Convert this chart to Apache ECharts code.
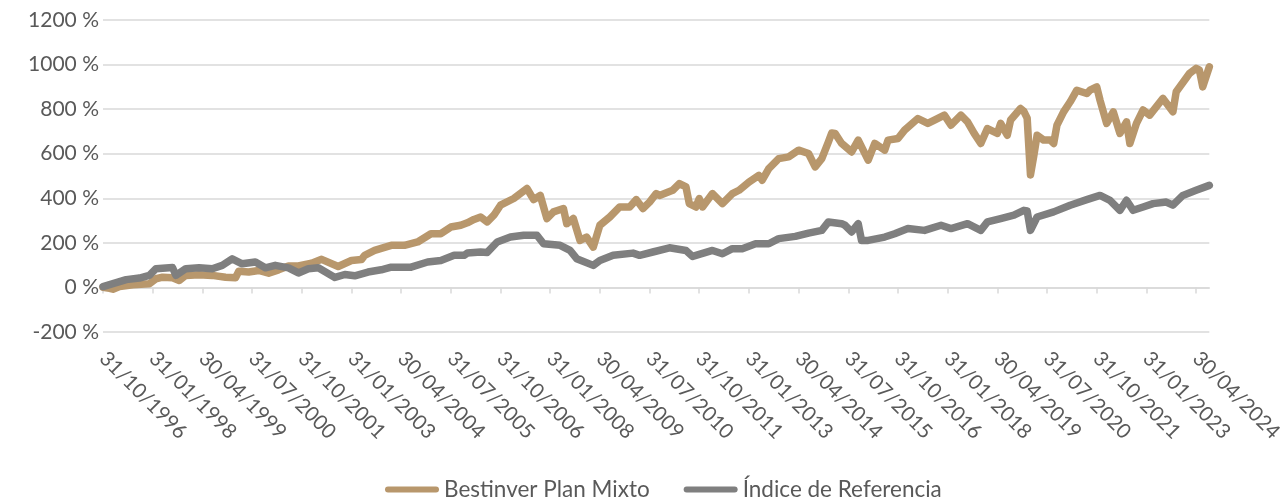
<!DOCTYPE html>
<html>
<head>
<meta charset="utf-8">
<script src="https://cdn.jsdelivr.net/npm/echarts@6/dist/echarts.min.js"></script>
<style>
html,body{margin:0;padding:0;background:#fff;}
#chart{width:1286px;height:500px;}
</style>
</head>
<body>
<div id="chart"></div>
<script>
// Month-end categories from 31/10/1996 to 31/08/2024
function buildCategories(startYear, startMonth, count) {
  var out = [];
  for (var i = 0; i < count; i++) {
    var y = startYear + Math.floor((startMonth - 1 + i) / 12);
    var mo = (startMonth - 1 + i) % 12;
    var last = new Date(Date.UTC(y, mo + 1, 0)).getUTCDate();
    out.push((last < 10 ? '0' : '') + last + '/' + (mo < 9 ? '0' : '') + (mo + 1) + '/' + y);
  }
  return out;
}
var categories = buildCategories(1996, 10, 335);

var seriesNames = ['Bestinver Plan Mixto', 'Índice de Referencia'];
var yTicks = [-200, 0, 200, 400, 600, 800, 1000, 1200];

// [month index since Oct-1996, cumulative return %]
var planMixto = [[0,1],[2,-4],[3,-8],[5,4],[9,12],[14,17],[16,39],[18,46],[21,43],[23,31],[25,54],[29,57],[33,54],[37,46],[40,43],[41,73],[44,69],[47,76],[50,64],[53,79],[56,96],[59,96],[63,109],[66,126],[71,94],[75,121],[78,125],[79,144],[82,166],[87,189],[91,189],[95,204],[99,241],[102,241],[105,271],[108,279],[110,290],[112,305],[114,316],[116,294],[118,324],[120,369],[124,399],[128,444],[130,394],[132,413],[134,309],[136,339],[139,354],[140,286],[142,309],[144,211],[146,226],[148,181],[150,279],[153,316],[156,361],[159,361],[161,394],[163,354],[165,383],[167,421],[168,413],[172,436],[174,466],[176,451],[177,376],[179,361],[180,399],[181,361],[184,421],[187,376],[190,421],[192,436],[195,473],[198,503],[199,481],[201,533],[204,578],[207,586],[210,616],[213,601],[215,541],[217,578],[219,653],[220,693],[221,691],[223,646],[226,608],[228,661],[231,571],[233,646],[236,616],[237,661],[240,668],[242,706],[246,758],[249,736],[251,751],[254,773],[256,728],[259,773],[261,743],[263,691],[265,646],[267,713],[270,691],[271,736],[273,683],[274,751],[277,803],[278,790],[279,760],[280,505],[281,590],[282,683],[284,661],[286,661],[287,646],[288,728],[290,788],[292,833],[294,885],[297,870],[298,885],[300,900],[301,840],[303,736],[305,788],[307,691],[309,743],[310,646],[312,736],[314,796],[316,773],[320,848],[323,788],[324,878],[328,960],[330,983],[331,975],[332,900],[334,990]];

var indiceRef = [[0,4],[3,17],[7,35],[11,42],[14,54],[16,84],[20,88],[21,89],[22,54],[25,84],[29,88],[33,84],[36,99],[39,128],[42,106],[46,114],[49,88],[52,99],[56,88],[59,65],[62,84],[65,88],[70,45],[73,58],[76,52],[80,69],[84,79],[87,91],[93,91],[98,114],[102,121],[106,144],[109,144],[110,154],[114,159],[116,157],[119,204],[123,226],[127,234],[131,234],[133,196],[138,189],[141,166],[143,129],[148,99],[150,121],[154,144],[160,154],[162,144],[166,159],[171,178],[176,166],[178,139],[184,166],[187,151],[190,174],[193,174],[197,196],[201,196],[204,219],[209,229],[213,244],[217,256],[219,294],[223,286],[224,279],[226,249],[228,286],[229,211],[231,211],[236,226],[239,241],[243,264],[248,256],[253,279],[256,264],[261,286],[265,256],[267,294],[271,309],[275,324],[278,346],[279,343],[280,256],[282,316],[287,339],[292,369],[297,394],[301,413],[304,391],[307,346],[309,391],[311,346],[314,361],[317,376],[321,383],[323,369],[326,413],[330,436],[334,458]];

function toSeriesData(points) {
  return points.map(function (p) { return [categories[p[0]], p[1]]; });
}

var FONT = 'Lato';
var TXT = '#595959';
var GRID = '#d9d9d9';
var pill = 'path://M3,0 L51,0 A3,3 0 0 1 51,6 L3,6 A3,3 0 0 1 3,0 Z';

var chart = echarts.init(document.getElementById('chart'), null, {renderer: 'canvas'});
chart.setOption({
  animation: false,
  backgroundColor: '#ffffff',
  grid: {left: 103, right: 70, top: 20, bottom: 168, containLabel: false},
  legend: {
    top: 473,
    left: 380,
    itemWidth: 54,
    itemHeight: 6,
    itemGap: 34,
    textStyle: {fontFamily: FONT, fontSize: 22.5, color: TXT},
    data: [
      {name: seriesNames[0], icon: pill},
      {name: seriesNames[1], icon: pill}
    ]
  },
  xAxis: [{
    type: 'category',
    data: categories,
    boundaryGap: false,
    axisLine: {show: true, onZero: true, lineStyle: {color: GRID, width: 1.5}},
    axisTick: {show: true, interval: 14, length: 6, lineStyle: {color: GRID, width: 1.5}},
    axisLabel: {show: false},
    splitLine: {show: false}
  }, {
    type: 'category',
    data: categories,
    boundaryGap: false,
    position: 'bottom',
    axisLine: {show: false, onZero: false},
    axisTick: {show: false},
    axisLabel: {
      show: true, interval: 14, rotate: -45, margin: 23,
      fontFamily: FONT, fontSize: 20.5, color: TXT
    },
    splitLine: {show: false}
  }],
  yAxis: {
    type: 'value',
    min: yTicks[0],
    max: yTicks[yTicks.length - 1],
    interval: 200,
    axisLine: {show: false},
    axisTick: {show: false},
    axisLabel: {
      formatter: function (v) { return v + ' %'; },
      fontFamily: FONT, fontSize: 21, color: TXT, margin: 4
    },
    splitLine: {show: true, lineStyle: {color: GRID, width: 1.5}}
  },
  series: [{
    name: seriesNames[0],
    type: 'line',
    xAxisIndex: 0,
    data: toSeriesData(planMixto),
    showSymbol: false,
    symbol: 'none',
    itemStyle: {color: '#b8976c'},
    lineStyle: {color: '#b8976c', width: 7.5, cap: 'round', join: 'round'}
  }, {
    name: seriesNames[1],
    type: 'line',
    xAxisIndex: 0,
    data: toSeriesData(indiceRef),
    showSymbol: false,
    symbol: 'none',
    itemStyle: {color: '#7f7f7f'},
    lineStyle: {color: '#7f7f7f', width: 7.5, cap: 'round', join: 'round'}
  }]
});
</script>
</body>
</html>
